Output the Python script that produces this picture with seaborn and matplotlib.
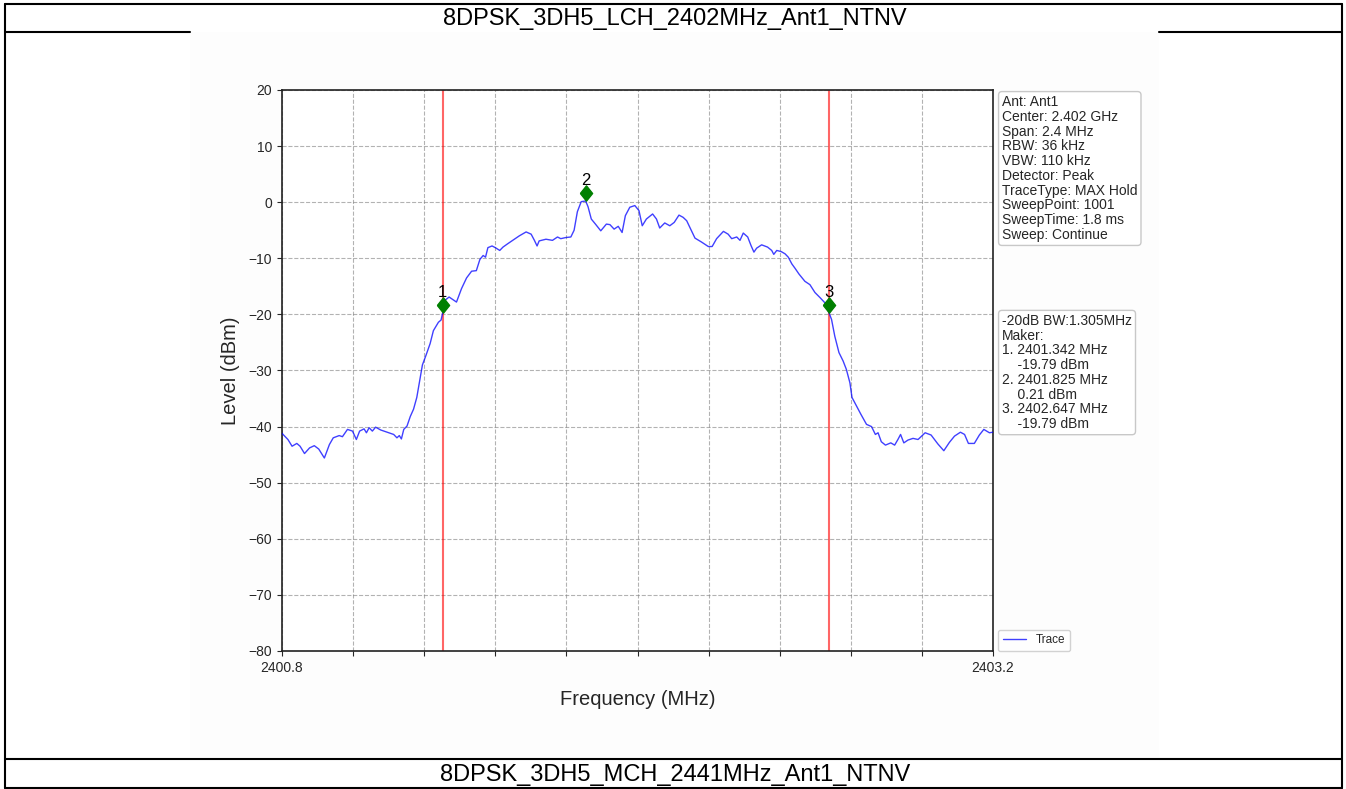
import numpy as np
import pandas as pd
import matplotlib
matplotlib.use('Agg')
import matplotlib.pyplot as plt
from matplotlib.lines import Line2D
from matplotlib.patches import Rectangle
import seaborn as sns

# ---- data ----
title_top = '8DPSK_3DH5_LCH_2402MHz_Ant1_NTNV'
title_bottom = '8DPSK_3DH5_MCH_2441MHz_Ant1_NTNV'

freq_mhz = [
    2400.800, 2400.820, 2400.834, 2400.850, 2400.861, 2400.876, 2400.893, 2400.909, 2400.924, 2400.943,
    2400.960, 2400.973, 2400.993, 2401.004, 2401.021, 2401.038, 2401.051, 2401.062, 2401.077, 2401.085,
    2401.094, 2401.105, 2401.116, 2401.133, 2401.155, 2401.177, 2401.188, 2401.196, 2401.203, 2401.211,
    2401.222, 2401.233, 2401.244, 2401.255, 2401.267, 2401.274, 2401.286, 2401.300, 2401.311, 2401.328,
    2401.337, 2401.342, 2401.350, 2401.364, 2401.378, 2401.389, 2401.406, 2401.423, 2401.440, 2401.456,
    2401.468, 2401.479, 2401.487, 2401.495, 2401.509, 2401.520, 2401.535, 2401.546, 2401.562, 2401.579,
    2401.601, 2401.624, 2401.641, 2401.652, 2401.661, 2401.668, 2401.691, 2401.713, 2401.730, 2401.741,
    2401.758, 2401.775, 2401.786, 2401.797, 2401.810, 2401.825, 2401.833, 2401.844, 2401.858, 2401.876,
    2401.895, 2401.907, 2401.921, 2401.935, 2401.948, 2401.959, 2401.974, 2401.991, 2402.005, 2402.016,
    2402.030, 2402.051, 2402.064, 2402.075, 2402.092, 2402.109, 2402.124, 2402.140, 2402.154, 2402.166,
    2402.177, 2402.194, 2402.216, 2402.239, 2402.252, 2402.267, 2402.290, 2402.306, 2402.318, 2402.335,
    2402.346, 2402.357, 2402.372, 2402.383, 2402.393, 2402.402, 2402.419, 2402.439, 2402.453, 2402.460,
    2402.470, 2402.485, 2402.498, 2402.509, 2402.521, 2402.532, 2402.545, 2402.565, 2402.582, 2402.599,
    2402.616, 2402.632, 2402.647, 2402.655, 2402.666, 2402.680, 2402.694, 2402.705, 2402.717, 2402.724,
    2402.739, 2402.754, 2402.773, 2402.790, 2402.803, 2402.812, 2402.823, 2402.837, 2402.855, 2402.868,
    2402.879, 2402.888, 2402.899, 2402.913, 2402.930, 2402.947, 2402.971, 2402.991, 2403.014, 2403.034,
    2403.053, 2403.070, 2403.090, 2403.104, 2403.117, 2403.137, 2403.154, 2403.169, 2403.188, 2403.200,
]
level_dbm = [
    -41.2, -42.3, -43.5, -43.0, -43.5, -44.8, -43.8, -43.4, -44.0, -45.6,
    -43.2, -42.0, -41.6, -41.8, -40.5, -40.8, -42.3, -40.8, -40.4, -41.1,
    -40.2, -40.8, -40.1, -40.6, -41.0, -41.4, -42.0, -41.6, -42.2, -40.5,
    -39.9, -38.2, -36.9, -34.8, -31.2, -29.0, -27.3, -25.2, -22.9, -21.4,
    -21.0, -19.79, -17.5, -16.9, -17.4, -17.8, -15.4, -13.5, -12.3, -12.2,
    -10.2, -9.5, -9.8, -8.1, -7.8, -8.1, -8.6, -8.0, -7.4, -6.8,
    -6.0, -5.3, -5.7, -6.8, -7.8, -6.9, -6.6, -6.8, -6.2, -6.5,
    -6.3, -6.2, -5.0, -1.7, 0.1, 0.21, -0.8, -3.0, -3.9, -5.1,
    -3.9, -4.0, -4.8, -4.3, -5.4, -2.4, -0.9, -0.6, -1.5, -4.2,
    -3.0, -2.1, -3.0, -4.6, -3.7, -4.2, -3.6, -2.3, -2.7, -3.3,
    -4.5, -6.4, -7.1, -7.9, -7.9, -6.5, -5.2, -5.7, -6.5, -6.2,
    -6.8, -5.5, -6.2, -7.7, -8.9, -8.2, -7.6, -8.0, -8.6, -9.3,
    -8.6, -8.8, -9.2, -9.8, -11.0, -11.8, -12.8, -14.1, -14.7, -16.1,
    -17.0, -17.9, -19.79, -20.9, -23.9, -26.8, -28.3, -29.8, -32.2, -34.8,
    -36.3, -37.8, -39.6, -40.0, -41.4, -41.1, -42.7, -43.3, -42.9, -43.3,
    -42.3, -41.4, -42.9, -42.4, -42.1, -42.3, -41.1, -41.5, -43.1, -44.3,
    -42.8, -41.7, -41.0, -41.4, -43.0, -43.0, -41.5, -40.5, -41.1, -41.0,
]

marker_ids = ['1', '2', '3']
marker_freq = [2401.342, 2401.825, 2402.647]
marker_level = [-19.79, 0.21, -19.79]
bw_edges = [2401.342, 2402.647]

x_min, x_max = 2400.8, 2403.2
x_step = 0.24
y_ticks = [-80, -70, -60, -50, -40, -30, -20, -10, 0, 10, 20]

setup_lines = ['Ant: Ant1', 'Center: 2.402 GHz', 'Span: 2.4 MHz', 'RBW: 36 kHz',
               'VBW: 110 kHz', 'Detector: Peak', 'TraceType: MAX Hold',
               'SweepPoint: 1001', 'SweepTime: 1.8 ms', 'Sweep: Continue']
result_lines = ['-20dB BW:1.305MHz', 'Maker:',
                '1. 2401.342 MHz', '    -19.79 dBm',
                '2. 2401.825 MHz', '    0.21 dBm',
                '3. 2402.647 MHz', '    -19.79 dBm']

# ---- style ----
sns.set_style('ticks')
plt.rcParams['font.family'] = ['Liberation Sans', 'DejaVu Sans']
plt.rcParams['axes.edgecolor'] = '#222222'

W, H = 1346, 789
fig = plt.figure(figsize=(W / 100, H / 100), dpi=100)
fig.patch.set_facecolor('white')

# embedded chart image background
fig.add_artist(Rectangle((190 / W, 1 - 757 / H), (1159 - 190) / W, (757 - 32) / H,
                         transform=fig.transFigure, facecolor='#fdfdfd', edgecolor='none', zorder=0))

# table frame around the chart
def hline(y, x0, x1):
    fig.add_artist(Line2D([x0 / W, x1 / W], [1 - y / H, 1 - y / H], transform=fig.transFigure,
                          color='black', lw=1.5, zorder=5))

def vline(x, y0, y1):
    fig.add_artist(Line2D([x / W, x / W], [1 - y0 / H, 1 - y1 / H], transform=fig.transFigure,
                          color='black', lw=1.5, zorder=5))

hline(3.5, 5, 1342)
hline(32, 5, 190)
hline(32, 1159, 1342)
hline(759, 5, 1342)
hline(788, 5, 1342)
vline(5, 3.5, 788)
vline(1342, 3.5, 788)

fig.text(675 / W, 1 - 19 / H, title_top, ha='center', va='center', fontsize=17, color='black')
fig.text(675 / W, 1 - 775 / H, title_bottom, ha='center', va='center', fontsize=17, color='black')

# ---- spectrum axes ----
ax = fig.add_axes([282 / W, 1 - 651 / H, (993 - 282) / W, (651 - 90) / H])
ax.set_facecolor('white')

trace_df = pd.DataFrame({'Frequency (MHz)': freq_mhz, 'Level (dBm)': level_dbm})
sns.lineplot(data=trace_df, x='Frequency (MHz)', y='Level (dBm)', ax=ax,
             color='blue', alpha=0.75, lw=1, label='Trace', sort=False, zorder=3)

for f in bw_edges:
    ax.axvline(f, color='red', alpha=0.6, lw=1.5, zorder=2)

diamond = [(-0.4, 0), (0, 0.5), (0.4, 0), (0, -0.5), (-0.4, 0)]
for mid, f, lv in zip(marker_ids, marker_freq, marker_level):
    ax.plot(f, lv + 1.4, marker=diamond, markersize=11, color='green', ls='none', zorder=4)
    ax.text(f, lv + 2.9, mid, ha='center', va='baseline', fontsize=12, color='black', zorder=4)

xt = [x_min + k * x_step for k in range(11)]
ax.set_xticks(xt)
ax.set_xticklabels([f'{x_min:.1f}'] + [''] * 9 + [f'{x_max:.1f}'], fontsize=10)
ax.set_yticks(y_ticks)
ax.tick_params(axis='y', labelsize=10)
ax.set_xlim(x_min, x_max)
ax.set_ylim(-80, 20)
ax.grid(True, ls='--', color='gray', alpha=0.6, lw=0.8)
for s in ax.spines.values():
    s.set_visible(True)
    s.set_linewidth(1.2)

ax.set_xlabel('Frequency (MHz)', fontsize=14.5, labelpad=11)
ax.set_ylabel('Level (dBm)', fontsize=14.5, labelpad=6)

box = dict(boxstyle='round,pad=0.25', facecolor='white', edgecolor='#c8c8c8', lw=1)
ax.text(1.0127, 0.991, '\n'.join(setup_lines), transform=ax.transAxes, ha='left', va='top',
        fontsize=10, linespacing=1.07, bbox=box)
ax.text(1.0127, 0.601, '\n'.join(result_lines), transform=ax.transAxes, ha='left', va='top',
        fontsize=10, linespacing=1.07, bbox=box)

ax.legend(loc='lower left', bbox_to_anchor=(1.007, 0.0), borderaxespad=0, fontsize=8.5,
          frameon=True, edgecolor='#c8c8c8')

fig.savefig('out.png', dpi=100, facecolor='white')
